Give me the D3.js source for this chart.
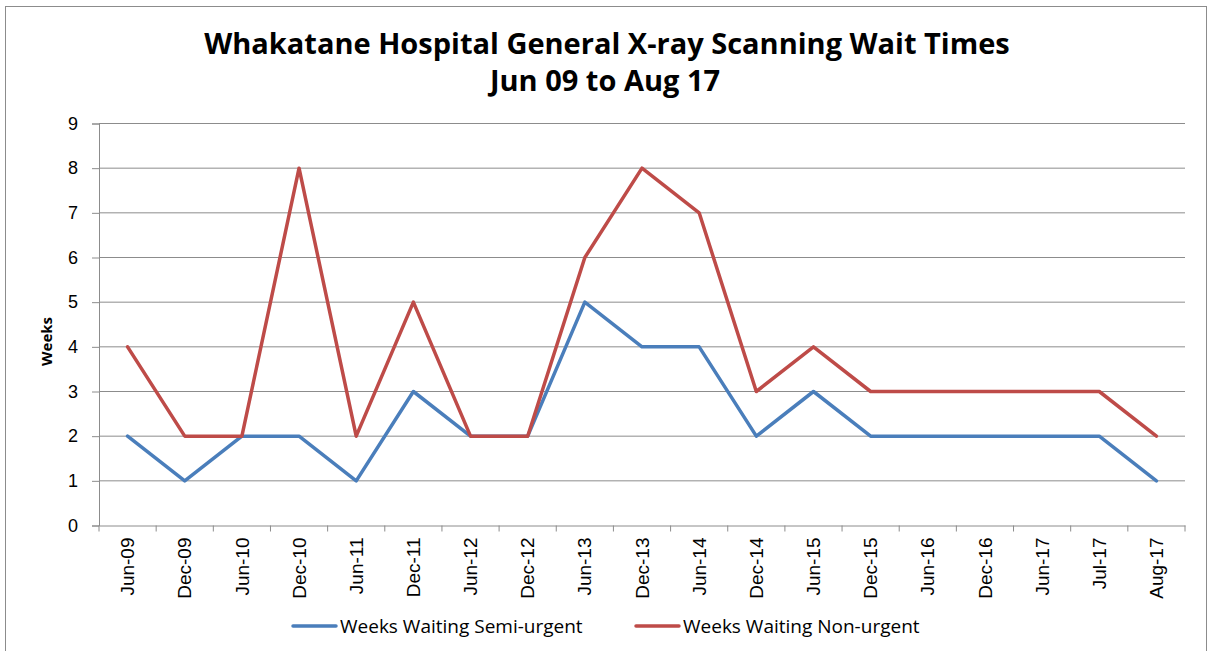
<!DOCTYPE html>
<html>
<head>
<meta charset="utf-8">
<script src="https://cdn.jsdelivr.net/npm/d3@7"></script>
<style>
  body { margin: 0; background: #fff; }
  svg { display: block; font-family: 'Open Sans', 'Liberation Sans', sans-serif; }
</style>
</head>
<body>
<div id="chart"></div>
<script>
// chart data
const categories = ['Jun-09', 'Dec-09', 'Jun-10', 'Dec-10', 'Jun-11', 'Dec-11', 'Jun-12', 'Dec-12',
  'Jun-13', 'Dec-13', 'Jun-14', 'Dec-14', 'Jun-15', 'Dec-15', 'Jun-16', 'Dec-16', 'Jun-17', 'Jul-17', 'Aug-17'];
const semiUrgent = [2, 1, 2, 2, 1, 3, 2, 2, 5, 4, 4, 2, 3, 2, 2, 2, 2, 2, 1];
const nonUrgent = [4, 2, 2, 8, 2, 5, 2, 2, 6, 8, 7, 3, 4, 3, 3, 3, 3, 3, 2];
const yTicks = [0, 1, 2, 3, 4, 5, 6, 7, 8, 9];
const seriesNames = ['Weeks Waiting Semi-urgent', 'Weeks Waiting Non-urgent'];
const colors = ['#4a7ebb', '#be4b48'];

const width = 1208;
const height = 651;
const margin = { top: 123.5, right: 23, bottom: 125.5, left: 99 };

const svg = d3.select('#chart').append('svg')
  .attr('width', width)
  .attr('height', height);

// outer frame
svg.append('rect')
  .attr('x', 5.5).attr('y', 6.5)
  .attr('width', 1201).attr('height', height + 10)
  .attr('fill', 'none').attr('stroke', '#8c8c8c').attr('stroke-width', 1);

// title
svg.append('text')
  .attr('x', 607).attr('y', 54)
  .attr('text-anchor', 'middle')
  .style('font-size', '29px').style('font-weight', 'bold')
  .text('Whakatane Hospital General X-ray Scanning Wait Times');
svg.append('text')
  .attr('x', 605).attr('y', 91)
  .attr('text-anchor', 'middle')
  .style('font-size', '29px').style('font-weight', 'bold')
  .text('Jun 09 to Aug 17');

const x = d3.scaleBand()
  .domain(categories)
  .range([margin.left, width - margin.right]);

const y = d3.scaleLinear()
  .domain([0, 9])
  .range([height - margin.bottom, margin.top]);

// gridlines
svg.append('g')
  .selectAll('line')
  .data(yTicks.slice(1))
  .join('line')
  .attr('x1', margin.left).attr('x2', width - margin.right)
  .attr('y1', (d) => y(d)).attr('y2', (d) => y(d))
  .attr('stroke', '#8c8c8c').attr('stroke-width', 1);

// y axis
const yAxis = svg.append('g')
  .attr('transform', `translate(${margin.left},0)`)
  .call(d3.axisLeft(y).tickValues(yTicks).tickSize(7).tickPadding(14));
yAxis.select('.domain').attr('stroke', '#8c8c8c');
yAxis.selectAll('.tick line').attr('stroke', '#8c8c8c');
yAxis.selectAll('.tick text')
  .style('font-size', '18px').attr('fill', '#000');

svg.append('text')
  .attr('transform', `translate(52,${y(4.12)}) rotate(-90)`)
  .attr('text-anchor', 'middle')
  .style('font-size', '15px').style('font-weight', 'bold')
  .text('Weeks');

// x axis
const xAxis = svg.append('g')
  .attr('transform', `translate(0,${y(0)})`)
  .call(d3.axisBottom(x).tickSize(0).tickPadding(0));
xAxis.select('.domain').attr('stroke', '#8c8c8c');
xAxis.selectAll('.tick text')
  .attr('transform', 'rotate(-90)')
  .attr('text-anchor', 'end')
  .attr('x', -12).attr('y', 0).attr('dy', '0.35em')
  .style('font-size', '19px').attr('fill', '#000');

// x ticks at category boundaries
const boundaries = categories.map((c) => x(c)).concat([x(categories[categories.length - 1]) + x.bandwidth()]);
svg.append('g')
  .selectAll('line')
  .data(boundaries)
  .join('line')
  .attr('x1', (d) => d).attr('x2', (d) => d)
  .attr('y1', y(0)).attr('y2', y(0) + 6)
  .attr('stroke', '#8c8c8c');

// lines
const line = d3.line()
  .x((d, i) => x(categories[i]) + x.bandwidth() / 2)
  .y((d) => y(d));

[semiUrgent, nonUrgent].forEach((s, i) => {
  svg.append('path')
    .datum(s)
    .attr('fill', 'none')
    .attr('stroke', colors[i])
    .attr('stroke-width', 3.5)
    .attr('stroke-linejoin', 'round')
    .attr('stroke-linecap', 'round')
    .attr('d', line);
});

// legend
const legendX = [293, 636];
const legend = svg.append('g')
  .selectAll('g')
  .data(seriesNames)
  .join('g')
  .attr('transform', (d, i) => `translate(${legendX[i]},626)`);
legend.append('line')
  .attr('x1', 0).attr('x2', 43)
  .attr('stroke', (d, i) => colors[i])
  .attr('stroke-width', 3.5)
  .attr('stroke-linecap', 'round');
legend.append('text')
  .attr('x', 47).attr('dy', '0.35em')
  .style('font-size', '19px')
  .text((d) => d);
</script>
</body>
</html>
